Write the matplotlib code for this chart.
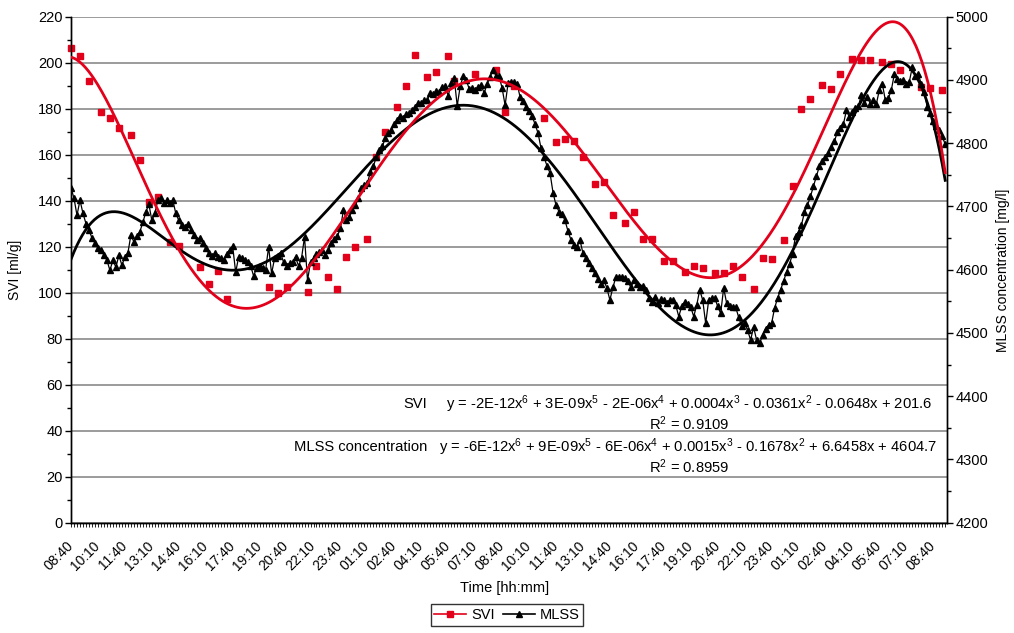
import numpy as np
import matplotlib
matplotlib.use("Agg")
import matplotlib.pyplot as plt
from matplotlib.ticker import MultipleLocator, FixedLocator
from matplotlib.lines import Line2D
from matplotlib.transforms import ScaledTranslation

plt.rcParams['font.family'] = ['Liberation Sans', 'DejaVu Sans']
plt.rcParams['mathtext.fontset'] = 'custom'
plt.rcParams['mathtext.rm'] = 'Liberation Sans'
plt.rcParams['mathtext.it'] = 'Liberation Sans'

# ---------------- data ----------------
tick_labels = ["08:40", "10:10", "11:40", "13:10", "14:40", "16:10", "17:40", "19:10",
               "20:40", "22:10", "23:40", "01:10", "02:40", "04:10", "05:40", "07:10",
               "08:40", "10:10", "11:40", "13:10", "14:40", "16:10", "17:40", "19:10",
               "20:40", "22:10", "23:40", "01:10", "02:40", "04:10", "05:40", "07:10",
               "08:40"]
label_step = 9  # one label every 9 samples (10-min samples)

# MLSS concentration [mg/l], one value per 10-min sample
mlss = [4729, 4713, 4686, 4710, 4689, 4673, 4663, 4650, 4642, 4634,
        4631, 4623, 4615, 4599, 4615, 4604, 4623, 4607, 4620, 4626,
        4655, 4644, 4653, 4660, 4675, 4691, 4704, 4678, 4689, 4710,
        4713, 4705, 4710, 4705, 4710, 4689, 4678, 4670, 4667, 4673,
        4663, 4655, 4647, 4650, 4642, 4634, 4626, 4621, 4626, 4620,
        4618, 4615, 4625, 4631, 4637, 4596, 4620, 4618, 4615, 4612,
        4606, 4590, 4603, 4606, 4603, 4599, 4636, 4594, 4618, 4621,
        4626, 4612, 4606, 4610, 4612, 4620, 4606, 4618, 4652, 4583,
        4612, 4618, 4625, 4628, 4631, 4623, 4631, 4642, 4648, 4653,
        4666, 4694, 4678, 4684, 4694, 4702, 4713, 4729, 4734, 4737,
        4754, 4764, 4778, 4789, 4795, 4808, 4816, 4821, 4830, 4837,
        4843, 4840, 4846, 4848, 4852, 4857, 4863, 4863, 4868, 4868,
        4879, 4878, 4882, 4881, 4889, 4890, 4875, 4895, 4903, 4859,
        4890, 4906, 4900, 4886, 4887, 4884, 4889, 4892, 4879, 4894,
        4905, 4916, 4906, 4906, 4887, 4860, 4895, 4897, 4897, 4894,
        4873, 4867, 4857, 4851, 4843, 4830, 4816, 4792, 4778, 4764,
        4753, 4722, 4702, 4692, 4688, 4678, 4661, 4647, 4639, 4636,
        4647, 4626, 4618, 4610, 4602, 4594, 4585, 4578, 4583, 4571,
        4552, 4572, 4588, 4589, 4588, 4587, 4582, 4572, 4583, 4578,
        4572, 4575, 4568, 4556, 4549, 4557, 4547, 4553, 4552, 4547,
        4552, 4552, 4544, 4526, 4542, 4549, 4545, 4541, 4526, 4544,
        4568, 4552, 4515, 4552, 4555, 4556, 4542, 4531, 4571, 4547,
        4542, 4541, 4541, 4525, 4511, 4516, 4504, 4489, 4509, 4489,
        4484, 4496, 4507, 4512, 4515, 4539, 4555, 4568, 4582, 4596,
        4609, 4625, 4653, 4660, 4671, 4691, 4702, 4716, 4732, 4748,
        4764, 4772, 4778, 4784, 4794, 4803, 4818, 4824, 4830, 4852,
        4841, 4849, 4855, 4859, 4876, 4863, 4873, 4862, 4868, 4862,
        4884, 4894, 4868, 4871, 4884, 4909, 4901, 4898, 4900, 4894,
        4897, 4920, 4906, 4909, 4894, 4881, 4857, 4848, 4835, 4827,
        4821, 4811, 4798]

# SVI [ml/g]: sample index and value (measured at irregular samples)
svi_idx = [0, 3, 6, 10, 13, 16, 20, 23, 26, 29, 33, 36, 43, 46, 49, 52,
           66, 69, 72, 79, 82, 86, 89, 92, 95, 99, 102, 105, 109, 112, 115, 119,
           122, 126, 128, 135, 142, 145, 148, 158, 162, 165, 168, 171, 175, 178,
           181, 185, 188, 191, 194, 198, 201, 205, 208, 211, 215, 218, 221, 224,
           228, 231, 234, 238, 241, 244, 247, 251, 254, 257, 261, 264, 267, 271,
           274, 277, 284, 287, 291]
svi_val = [206.2, 202.7, 191.9, 178.7, 175.9, 171.4, 168.5, 157.8, 139.4, 141.4,
           122.1, 120.5, 111.1, 104.0, 109.5, 97.2,
           102.4, 99.8, 102.4, 100.5, 111.8, 106.8, 101.4, 115.7, 119.8, 123.5,
           159.0, 170.0, 180.9, 190.0, 203.2, 193.6,
           195.8, 202.7, 192.0, 194.9, 196.8, 178.7, 190.0, 175.8, 165.5, 166.8,
           166.0, 159.0, 147.2, 148.2,
           133.7, 130.3, 135.3, 123.3, 123.3, 113.9, 113.9, 108.9, 111.4, 110.9,
           108.5, 108.5, 111.4, 106.8,
           101.8, 115.3, 114.7, 123.0, 146.2, 180.0, 184.3, 190.1, 188.7, 195.1,
           201.4, 201.0, 201.0, 200.3,
           199.3, 196.9, 189.3, 189.1, 188.0]

eq_svi = (r"y = -2E-12x$^{6}$ + 3E-09x$^{5}$ - 2E-06x$^{4}$ + 0.0004x$^{3}$ "
          r"- 0.0361x$^{2}$ - 0.0648x + 201.6")
r2_svi = r"R$^{2}$ = 0.9109"
eq_mlss = (r"y = -6E-12x$^{6}$ + 9E-09x$^{5}$ - 6E-06x$^{4}$ + 0.0015x$^{3}$ "
           r"- 0.1678x$^{2}$ + 6.6458x + 4604.7")
r2_mlss = r"R$^{2}$ = 0.8959"

# ---------------- figure ----------------
W, H = 1014, 633
fig = plt.figure(figsize=(W / 100, H / 100), dpi=100)

def fx(px):
    return px / W

def fy(py):
    return 1 - py / H

L, R, T, B = 71, 947, 16.7, 522.7
ax = fig.add_axes([fx(L), fy(B), fx(R) - fx(L), fy(T) - fy(B)])
ax2 = ax.twinx()

n = len(mlss)
x_all = np.arange(n)
xlo, xhi = 0, 292.6

ax.set_ylim(0, 220)
ax.set_xlim(xlo, xhi)
ax.yaxis.set_major_locator(MultipleLocator(20))
ax.yaxis.set_minor_locator(MultipleLocator(10))
ax.grid(axis='y', which='major', color='#808080', lw=1.1, zorder=0)
ax.set_axisbelow(True)

# SVI markers
ax.plot(svi_idx, svi_val, ls='none', marker='s', ms=4.6, color='#e2001a',
        mec='#e2001a', zorder=3, clip_on=False)

# MLSS line on secondary axis
ax2.set_ylim(4200, 5000)
ax2.plot(x_all, mlss, color='black', lw=0.9, marker='^', ms=3.8, zorder=2)

# trendlines (6th order polynomial fits, Excel x = index + 1)
xf = np.linspace(0, n - 1, 600)
p_svi = np.polyfit(np.array(svi_idx) + 1.0, svi_val, 6)
p_mlss = np.polyfit(x_all + 1.0, mlss, 6)
ax2.plot(xf, np.polyval(p_mlss, xf + 1), color='black', lw=2.0, zorder=3)
ax2.plot(xf, np.polyval(p_svi, xf + 1), color='#e2001a', lw=2.0, zorder=4,
         transform=ax.transData)

ax2.yaxis.set_major_locator(MultipleLocator(100))
ax2.yaxis.set_minor_locator(MultipleLocator(50))

# x axis ticks
major_pos = [i * label_step for i in range(len(tick_labels))]
ax.xaxis.set_major_locator(FixedLocator(major_pos))
ax.xaxis.set_minor_locator(MultipleLocator(1))
ax.set_xticklabels(tick_labels, rotation=45, ha='right', va='center',
                   rotation_mode='anchor', fontsize=10)
ax.set_xlim(xlo, xhi)
shift = ScaledTranslation(-0.035, -0.01, fig.dpi_scale_trans)
for lbl in ax.get_xticklabels():
    lbl.set_transform(lbl.get_transform() + shift)

for a in (ax, ax2):
    a.spines['top'].set_visible(False)
    for s in ('left', 'right', 'bottom'):
        a.spines[s].set_color('black')
        a.spines[s].set_linewidth(1.0)
    a.patch.set_visible(False)

ax.tick_params(axis='x', which='both', direction='out', length=3, width=0.6,
               pad=12, colors='black')
ax.tick_params(axis='y', which='major', direction='out', length=4, width=1,
               labelsize=10.5, pad=2)
ax.tick_params(axis='y', which='minor', direction='out', length=3, width=1)
ax2.tick_params(axis='y', which='major', direction='out', length=4, width=1,
                labelsize=10.5, pad=2)
ax2.tick_params(axis='y', which='minor', direction='out', length=3, width=1)

# axis titles
fig.text(fx(15), fy(270), "SVI [ml/g]", rotation=90, ha='center', va='center',
         fontsize=10)
fig.text(fx(1003), fy(270), "MLSS concentration [mg/l]", rotation=90,
         ha='center', va='center', fontsize=10)
fig.text(fx(505), fy(588), "Time [hh:mm]", ha='center', va='center', fontsize=10.5)

# trendline equations
fs_eq = 10.6
fig.text(fx(403), fy(404), "SVI", ha='left', va='center', fontsize=fs_eq)
fig.text(fx(932), fy(404), eq_svi, ha='right', va='center', fontsize=fs_eq)
fig.text(fx(649), fy(424), r2_svi, ha='left', va='center', fontsize=fs_eq)
fig.text(fx(294), fy(447), "MLSS concentration", ha='left', va='center', fontsize=fs_eq)
fig.text(fx(937), fy(447), eq_mlss, ha='right', va='center', fontsize=fs_eq)
fig.text(fx(649), fy(467), r2_mlss, ha='left', va='center', fontsize=fs_eq)

# legend
h1 = Line2D([], [], color='#e2001a', marker='s', ms=4, lw=1.2)
h2 = Line2D([], [], color='black', marker='^', ms=4, lw=1.2)
leg = fig.legend([h1, h2], ["SVI", "MLSS"], loc='lower center',
                 bbox_to_anchor=(0.5, 0.0), ncol=2, fontsize=10.5,
                 frameon=True, fancybox=False, handlelength=2.2,
                 handletextpad=0.3, columnspacing=0.6, borderpad=0.25)
leg.get_frame().set_edgecolor('black')
leg.get_frame().set_linewidth(1.0)

fig.savefig("out.png", dpi=100)
